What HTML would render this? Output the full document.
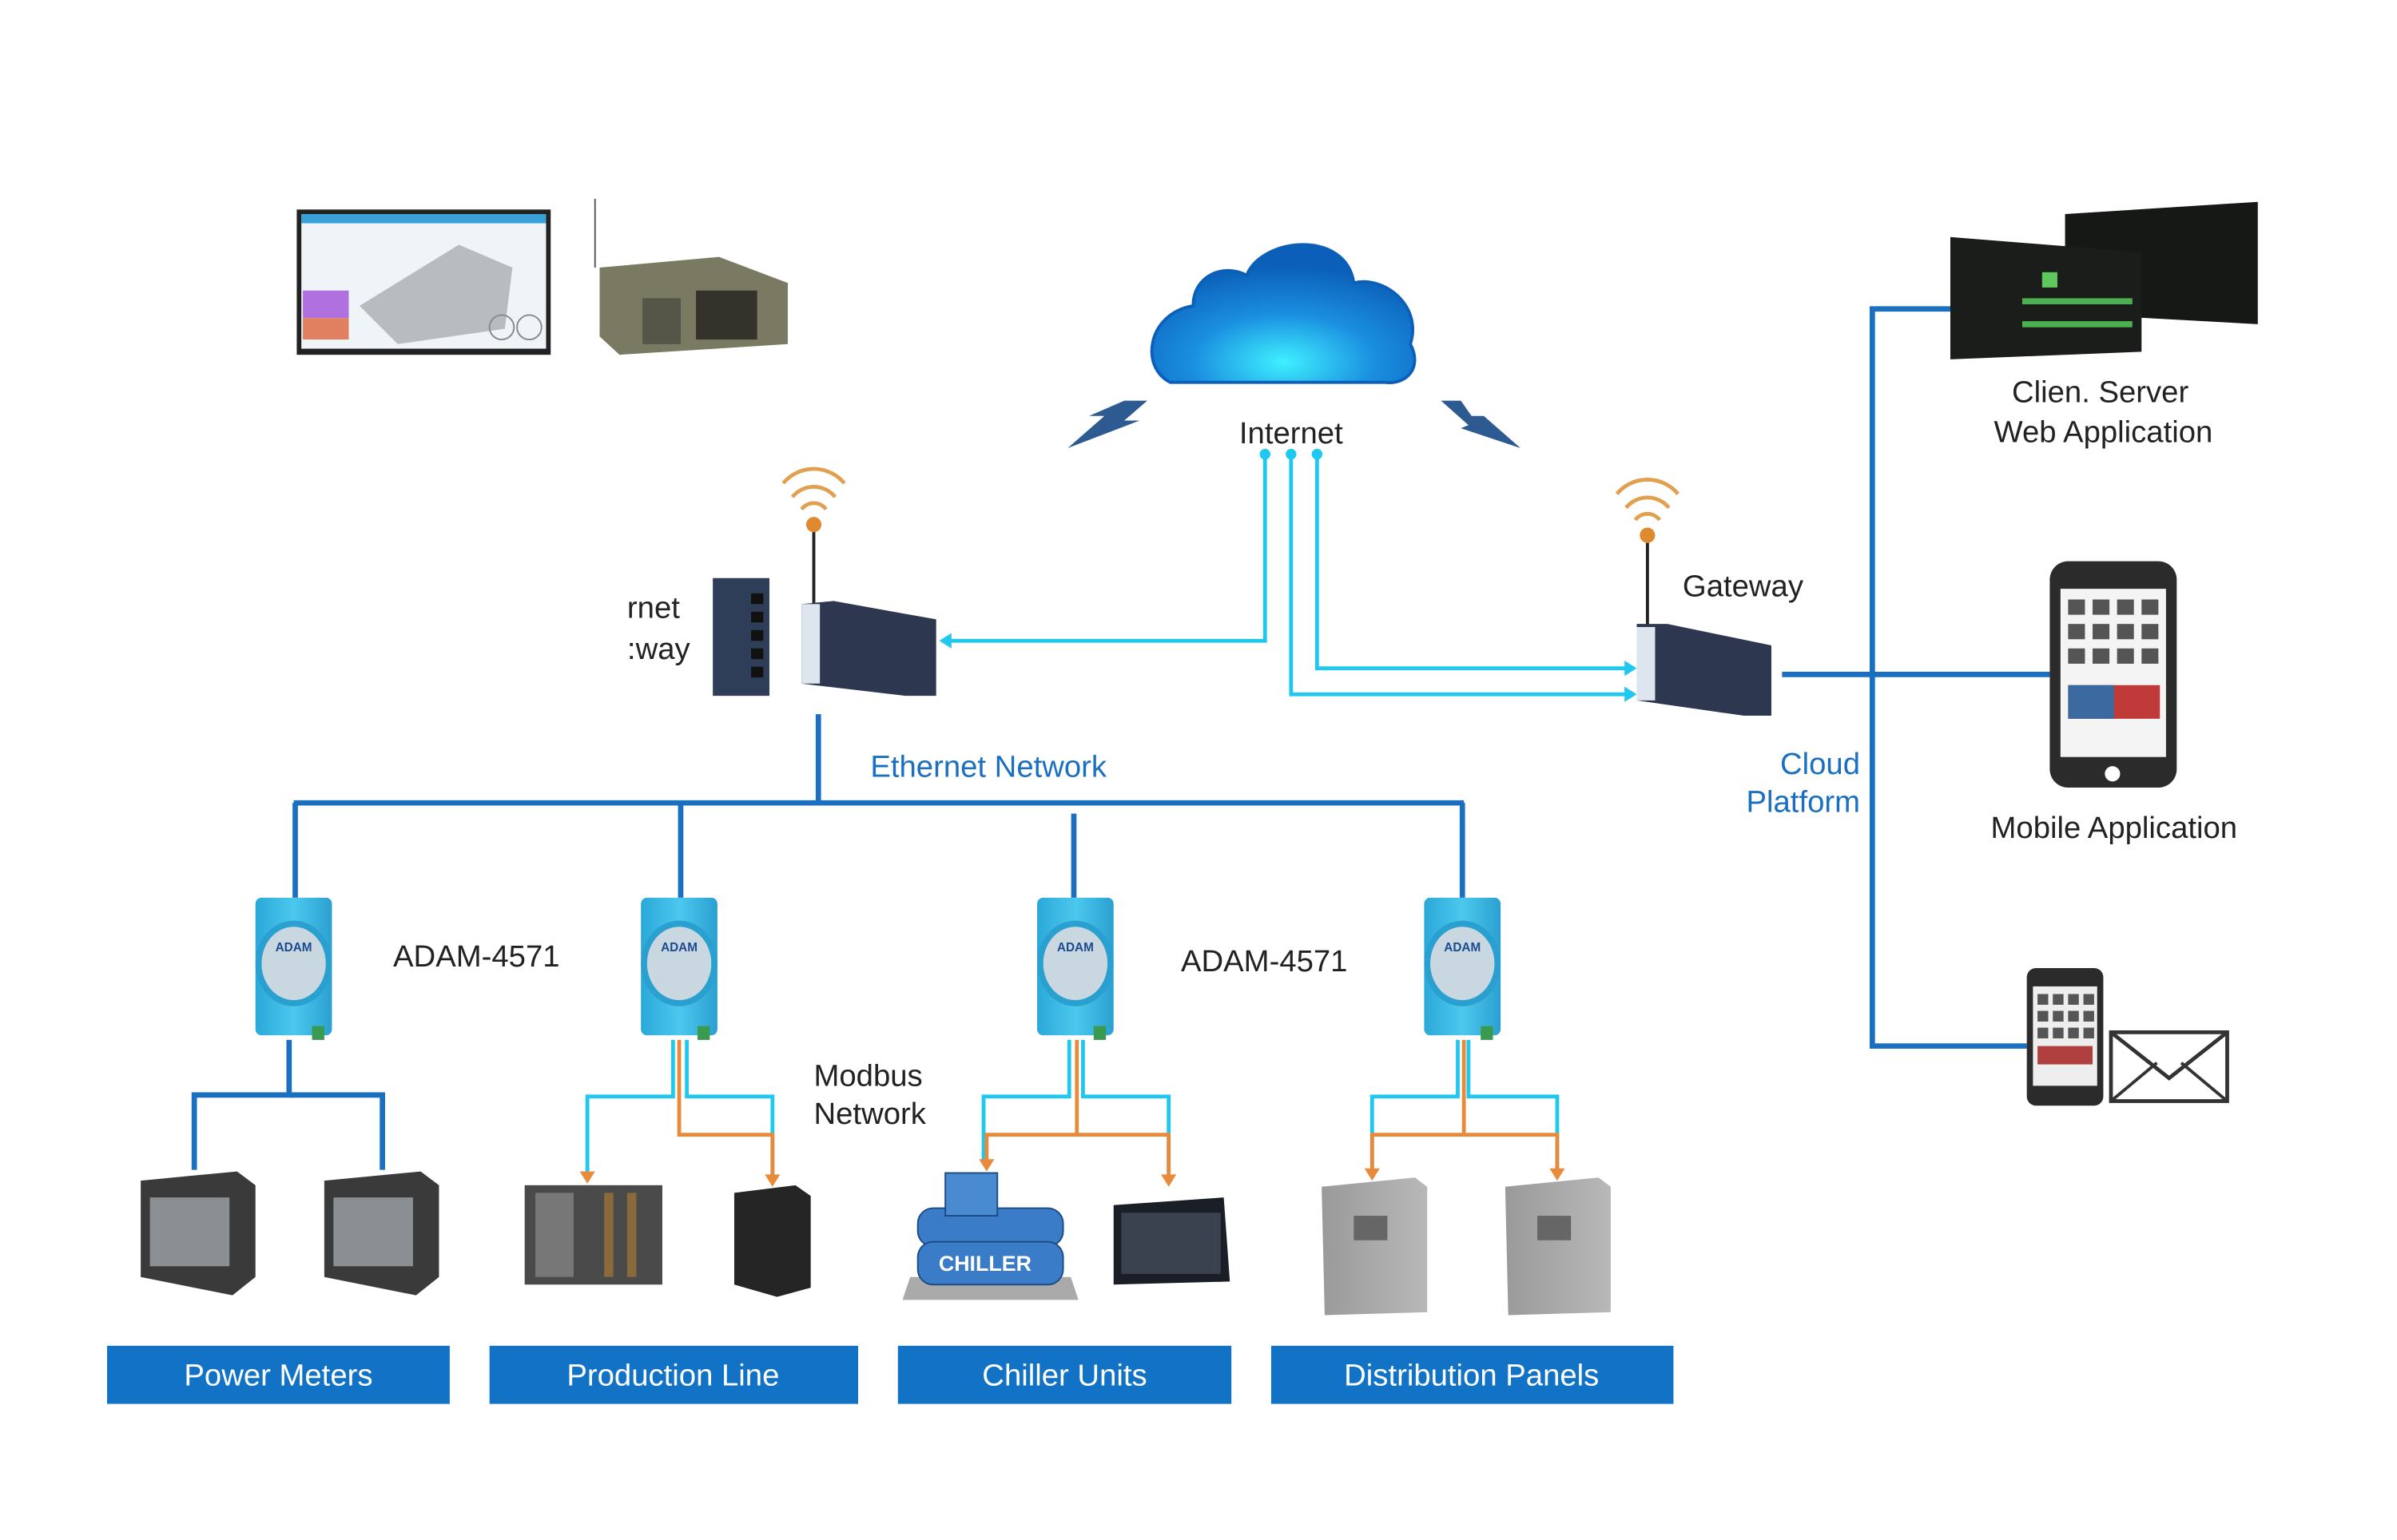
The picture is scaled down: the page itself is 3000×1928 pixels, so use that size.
<!DOCTYPE html>
<html><head><meta charset="utf-8"><style>
html,body{margin:0;padding:0;background:#fff;}
svg{display:block;}
text{font-family:"Liberation Sans",sans-serif;}
</style></head><body>
<svg width="3000" height="1928" viewBox="0 0 1567 1007" preserveAspectRatio="none" xmlns="http://www.w3.org/2000/svg">
<defs>
<radialGradient id="cg" cx="50%" cy="85%" r="70%"><stop offset="0" stop-color="#3ff0ff"/><stop offset="0.5" stop-color="#1a8ee0"/><stop offset="1" stop-color="#0b5fb8"/></radialGradient>
<linearGradient id="adam" x1="0" x2="1"><stop offset="0" stop-color="#2aa8d8"/><stop offset="0.5" stop-color="#4cc8ee"/><stop offset="1" stop-color="#2aa0d0"/></linearGradient>
<linearGradient id="gray" x1="0" x2="1"><stop offset="0" stop-color="#9a9a9a"/><stop offset="1" stop-color="#b8b8b8"/></linearGradient>
</defs>
<rect x="194" y="137" width="166" height="95" fill="#222"/>
<rect x="197" y="140" width="160" height="88" fill="#eef4f8"/>
<rect x="197" y="140" width="160" height="6" fill="#3aa0d8"/>
<polygon points="235,200 300,160 335,175 330,215 260,225" fill="#b8bcc0"/>
<rect x="198" y="190" width="30" height="18" fill="#b070e0"/>
<rect x="198" y="208" width="30" height="14" fill="#e08060"/>
<circle cx="328" cy="214" r="8" fill="none" stroke="#888"/><circle cx="346" cy="214" r="8" fill="none" stroke="#888"/>
<line x1="389" y1="130" x2="389" y2="175" stroke="#555"/>
<polygon points="392,175 470,168 515,185 515,225 405,232 392,220" fill="#7a7a62"/>
<rect x="420" y="195" width="25" height="30" fill="#555548"/>
<rect x="455" y="190" width="40" height="32" fill="#33332c"/>
<path d="M765,250 C745,240 750,205 780,200 C780,180 800,172 815,180 C825,155 880,150 885,185 C905,180 930,200 922,225 C930,240 920,252 905,250 Z" fill="url(#cg)" stroke="#0b5fb8" stroke-width="2"/>
<polygon points="735,262 750,262 735,275 745,275 698,293 722,272 712,272" fill="#2d5a90"/>
<polygon points="942,262 955,262 962,272 970,272 994,293 955,280 960,278" fill="#2d5a90"/>
<text x="844" y="290" font-size="20" text-anchor="middle" fill="#222">Internet</text>
<g stroke="#1ec8ee" stroke-width="2.5" fill="none">
<polyline points="827,298 827,419 618,419"/>
<polyline points="861,298 861,437 1066,437"/>
<polyline points="844,298 844,454 1066,454"/>
</g>
<g fill="#1ec8ee">
<circle cx="827" cy="297" r="3.5"/><circle cx="844" cy="297" r="3.5"/><circle cx="861" cy="297" r="3.5"/>
<polygon points="614,419 622,414 622,424"/>
<polygon points="1070,437 1062,432 1062,442"/><polygon points="1070,454 1062,449 1062,459"/>
</g>
<rect x="466" y="378" width="37" height="77" fill="#2e3e58"/>
<g fill="#111"><rect x="491" y="388" width="8" height="7"/><rect x="491" y="400" width="8" height="7"/><rect x="491" y="412" width="8" height="7"/><rect x="491" y="424" width="8" height="7"/><rect x="491" y="436" width="8" height="7"/></g>
<line x1="532" y1="345" x2="532" y2="395" stroke="#222" stroke-width="2"/>
<circle cx="532" cy="343" r="5" fill="#e08a30"/>
<g fill="none" stroke="#e0a050" stroke-width="2.5"><path d="M524,333 A10,10 0 0 1 540,333"/><path d="M518,325 A18,18 0 0 1 546,325"/><path d="M512,316 A26,26 0 0 1 552,316"/></g>
<polygon points="524,395 545,393 612,405 612,455 592,455 524,447" fill="#2d3850"/>
<rect x="524" y="395" width="12" height="52" fill="#dde6ee"/>
<text x="410" y="404" font-size="20" fill="#222">rnet</text>
<text x="410" y="431" font-size="20" fill="#222">:way</text>
<line x1="1077" y1="355" x2="1077" y2="410" stroke="#222" stroke-width="2"/>
<circle cx="1077" cy="350" r="5" fill="#e08a30"/>
<g fill="none" stroke="#e0a050" stroke-width="2.5"><path d="M1069,340 A10,10 0 0 1 1085,340"/><path d="M1063,332 A18,18 0 0 1 1091,332"/><path d="M1057,323 A26,26 0 0 1 1097,323"/></g>
<polygon points="1070,408 1090,408 1158,422 1158,468 1140,468 1070,458" fill="#2d3850"/>
<rect x="1070" y="410" width="12" height="48" fill="#dde6ee"/>
<text x="1100" y="390" font-size="20" fill="#222">Gateway</text>
<g stroke="#1a6fc0" stroke-width="3.5" fill="none">
<line x1="1165" y1="441" x2="1340" y2="441"/>
<polyline points="1275,202 1224,202 1224,684 1325,684"/>
</g>
<text x="1216" y="506" font-size="20" text-anchor="end" fill="#1a6fc0">Cloud</text>
<text x="1216" y="531" font-size="20" text-anchor="end" fill="#1a6fc0">Platform</text>
<polygon points="1350,140 1476,132 1476,212 1350,205" fill="#151815"/>
<polygon points="1275,155 1400,165 1400,230 1275,235" fill="#1a1d1a"/>
<rect x="1322" y="195" width="72" height="4" fill="#4caf50"/><rect x="1322" y="210" width="72" height="4" fill="#4caf50"/>
<rect x="1335" y="178" width="10" height="10" fill="#5ec85e"/>
<text x="1373" y="263" font-size="20" text-anchor="middle" fill="#222">Clien. Server</text>
<text x="1375" y="289" font-size="20" text-anchor="middle" fill="#222">Web Application</text>
<rect x="1340" y="367" width="83" height="148" rx="12" fill="#2b2b2b"/>
<rect x="1347" y="385" width="69" height="110" fill="#f4f4f4"/>
<g fill="#555"><rect x="1352" y="392" width="11" height="10"/><rect x="1368" y="392" width="11" height="10"/><rect x="1384" y="392" width="11" height="10"/><rect x="1400" y="392" width="11" height="10"/>
<rect x="1352" y="408" width="11" height="10"/><rect x="1368" y="408" width="11" height="10"/><rect x="1384" y="408" width="11" height="10"/><rect x="1400" y="408" width="11" height="10"/>
<rect x="1352" y="424" width="11" height="10"/><rect x="1368" y="424" width="11" height="10"/><rect x="1384" y="424" width="11" height="10"/><rect x="1400" y="424" width="11" height="10"/></g>
<rect x="1352" y="448" width="60" height="22" fill="#c03a3a"/><rect x="1352" y="448" width="30" height="22" fill="#3a6aa0"/>
<circle cx="1381" cy="506" r="5" fill="#fff"/>
<text x="1382" y="548" font-size="20" text-anchor="middle" fill="#222">Mobile Application</text>
<rect x="1325" y="633" width="50" height="90" rx="6" fill="#2b2b2b"/>
<rect x="1329" y="645" width="42" height="65" fill="#eee"/>
<g fill="#555"><rect x="1332" y="650" width="7" height="7"/><rect x="1342" y="650" width="7" height="7"/><rect x="1352" y="650" width="7" height="7"/><rect x="1362" y="650" width="7" height="7"/>
<rect x="1332" y="661" width="7" height="7"/><rect x="1342" y="661" width="7" height="7"/><rect x="1352" y="661" width="7" height="7"/><rect x="1362" y="661" width="7" height="7"/>
<rect x="1332" y="672" width="7" height="7"/><rect x="1342" y="672" width="7" height="7"/><rect x="1352" y="672" width="7" height="7"/><rect x="1362" y="672" width="7" height="7"/></g>
<rect x="1332" y="684" width="36" height="12" fill="#b04040"/>
<rect x="1380" y="675" width="76" height="45" fill="#fff" stroke="#333" stroke-width="2.5"/>
<polyline points="1380,675 1418,705 1456,675" fill="none" stroke="#333" stroke-width="2.5"/>
<line x1="1380" y1="720" x2="1410" y2="695" stroke="#333" stroke-width="2"/>
<line x1="1456" y1="720" x2="1426" y2="695" stroke="#333" stroke-width="2"/>
<g stroke="#1a6fc0" stroke-width="3.5" fill="none">
<line x1="535" y1="467" x2="535" y2="525"/>
<line x1="192" y1="525" x2="957" y2="525"/>
<line x1="193" y1="525" x2="193" y2="587"/><line x1="445" y1="525" x2="445" y2="587"/>
<line x1="702" y1="532" x2="702" y2="587"/><line x1="956" y1="525" x2="956" y2="587"/>
<polyline points="189,680 189,716 127,716 127,765"/><polyline points="189,716 250,716 250,765"/>
</g>
<text x="569" y="508" font-size="20" fill="#1a6fc0">Ethernet Network</text>
<g id="ad">
<rect x="167" y="587" width="50" height="90" rx="4" fill="url(#adam)"/>
<ellipse cx="192" cy="630" rx="25" ry="28" fill="#2aa0d0"/>
<ellipse cx="192" cy="630" rx="21" ry="24" fill="#c9d8e0"/>
<text x="192" y="622" font-size="8" text-anchor="middle" fill="#1a4a90" font-weight="bold">ADAM</text>
<rect x="204" y="671" width="8" height="9" fill="#3a9a50"/>
</g>
<use href="#ad" x="252"/><use href="#ad" x="511"/><use href="#ad" x="764"/>
<text x="257" y="632" font-size="20" fill="#222">ADAM-4571</text>
<text x="772" y="635" font-size="20" fill="#222">ADAM-4571</text>
<text x="532" y="710" font-size="20" fill="#222">Modbus</text>
<text x="532" y="735" font-size="20" fill="#222">Network</text>
<g stroke="#1ec8ee" stroke-width="2.5" fill="none">
<polyline points="440,680 440,717 384,717 384,768"/><polyline points="449,680 449,717 505,717 505,768"/>
<polyline points="699,680 699,717 643,717 643,760"/><polyline points="708,680 708,717 764,717 764,768"/>
<polyline points="953,680 953,717 897,717 897,765"/><polyline points="960,680 960,717 1018,717 1018,765"/>
</g>
<g stroke="#e88a3a" stroke-width="2.5" fill="none">
<polyline points="444,680 444,742 505,742 505,768"/>
<polyline points="704,680 704,742 645,742 645,760"/><polyline points="704,742 764,742 764,768"/>
<polyline points="957,680 957,742 897,742 897,765"/><polyline points="957,742 1018,742 1018,765"/>
</g>
<g fill="#e88a3a"><polygon points="379,766 389,766 384,774"/><polygon points="500,768 510,768 505,776"/><polygon points="759,768 769,768 764,776"/><polygon points="892,764 902,764 897,772"/><polygon points="1013,764 1023,764 1018,772"/><polygon points="640,758 650,758 645,766"/></g>
<g id="pm"><polygon points="92,772 155,766 167,775 167,835 152,847 92,835" fill="#3a3a3a"/><rect x="98" y="783" width="52" height="45" fill="#8a8f94"/></g>
<use href="#pm" x="120"/>
<rect x="343" y="775" width="90" height="65" fill="#4a4a4a"/>
<rect x="350" y="780" width="25" height="55" fill="#777"/><rect x="395" y="780" width="6" height="55" fill="#8a6a3a"/><rect x="410" y="780" width="6" height="55" fill="#8a6a3a"/>
<polygon points="480,780 520,775 530,782 530,842 508,848 480,840" fill="#252525"/>
<polygon points="590,850 705,850 700,835 595,835" fill="#aaa"/>
<rect x="600" y="790" width="95" height="25" rx="10" fill="#3a7cc8" stroke="#1d4a80"/>
<rect x="600" y="812" width="95" height="28" rx="10" fill="#3a7cc8" stroke="#1d4a80"/>
<rect x="618" y="767" width="34" height="28" fill="#4a8ad0" stroke="#1d4a80"/>
<text x="644" y="831" font-size="14" font-weight="bold" text-anchor="middle" fill="#fff">CHILLER</text>
<polygon points="728,788 800,783 804,838 728,840" fill="#1a1e26"/>
<rect x="733" y="793" width="65" height="40" fill="#3a4250"/>
<g id="dp"><polygon points="864,776 925,770 933,776 933,858 866,860" fill="url(#gray)"/><rect x="885" y="795" width="22" height="16" fill="#666"/></g>
<use href="#dp" x="120"/>
<g fill="#1273c6"><rect x="70" y="880" width="224" height="38"/><rect x="320" y="880" width="241" height="38"/><rect x="587" y="880" width="218" height="38"/><rect x="831" y="880" width="263" height="38"/></g>
<g font-size="20" fill="#fff" text-anchor="middle">
<text x="182" y="906">Power Meters</text><text x="440" y="906">Production Line</text><text x="696" y="906">Chiller Units</text><text x="962" y="906">Distribution Panels</text>
</g>
</svg>
</body></html>
